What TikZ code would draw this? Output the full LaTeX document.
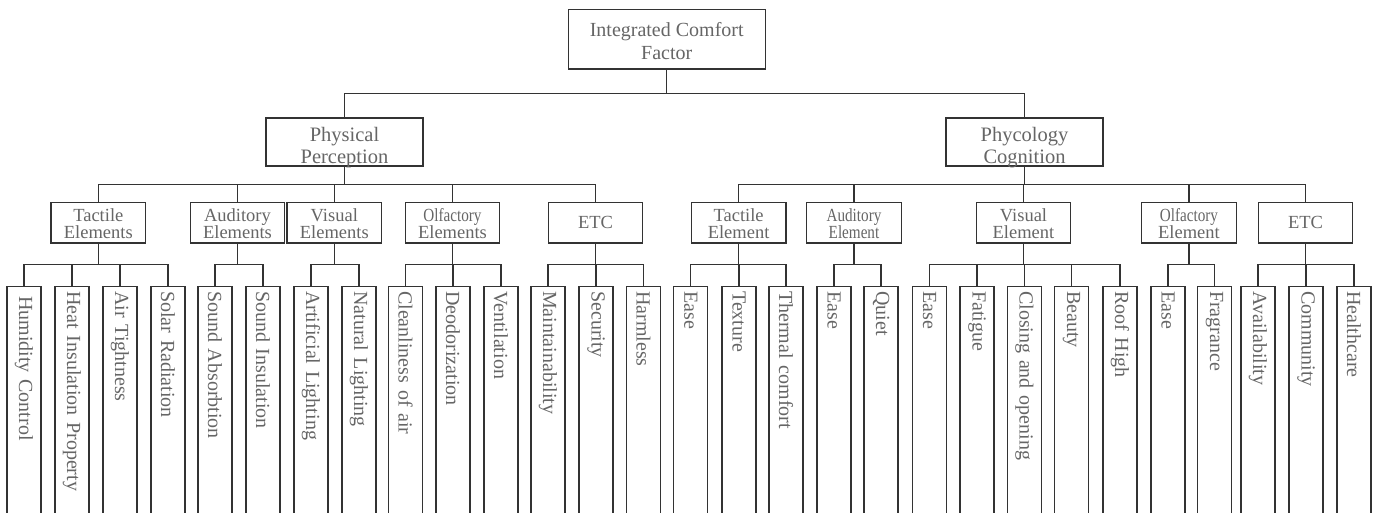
\documentclass[tikz,border=0pt]{standalone}
\usepackage{fontspec}
\setmainfont{Liberation Serif}
\usepackage{graphicx}
\definecolor{ln}{HTML}{333333}
\definecolor{tx}{HTML}{666666}
\newcommand{\sqz}[1]{\scalebox{0.82}[1]{#1}}
\newcommand{\lf}[3]{\node[leaf] (#1) at (#2,285.5) {#3};}
\setlength{\lineskiplimit}{-20pt}
\begin{document}
\begin{tikzpicture}[x=1pt,y=-1pt,
 box/.style={draw=ln, line width=1.4pt, fill=white, text=tx, align=center, inner sep=0pt},
 rootbox/.style={box, minimum width=197pt, minimum height=59.5pt, text height=40pt, text depth=0pt, font=\fontsize{20}{23}\selectfont},
 topbox/.style={box, minimum width=157pt, minimum height=48pt, text height=43pt, text depth=0pt, font=\fontsize{20.5}{22.5}\selectfont},
 etcbox/.style={box, minimum width=94.5pt, minimum height=40.3pt, font=\fontsize{18.5}{17}\selectfont},
 midbox/.style={etcbox, text height=31.6pt, text depth=0pt},
 leaf/.style={draw=ln, line width=1.4pt, text=tx, rotate=-90, anchor=west, minimum height=34pt, text width=230pt, inner xsep=5pt, inner ysep=0pt, align=left, font=\fontsize{20}{22}\selectfont},
 busto/.style={to path={(\tikztostart) -- ++(0,#1) -| (\tikztotarget)}},
 conn/.style={draw=ln, line width=1.4pt}
]
\useasboundingbox (0,0) rectangle (1376,512);
\clip (0,0) rectangle (1376,512);
\fill[white] (0,0) rectangle (1376,512);

% root and level 1
\node[rootbox] (root) at (666.7,39.2) {Integrated Comfort\\Factor};
\node[topbox] (pp) at (344.5,142) {Physical\\Perception};
\node[topbox] (pc) at (1024.5,142) {Phycology\\Cognition};

% level 2 left
\node[midbox] (lt) at (98.3,222.8) {Tactile\\Elements};
\node[midbox] (la) at (237.5,222.8) {Auditory\\Elements};
\node[midbox] (lv) at (334.3,222.8) {Visual\\Elements};
\node[midbox] (lo) at (452.5,222.8) {\sqz{Olfactory}\\Elements};
\node[etcbox] (le) at (595.5,222.8) {ETC};
% level 2 right
\node[midbox] (rt) at (738.6,222.8) {Tactile\\Element};
\node[midbox] (ra) at (854,222.8) {\sqz{Auditory}\\\sqz{Element}};
\node[midbox] (rv) at (1023.5,222.8) {Visual\\Element};
\node[midbox] (ro) at (1189,222.8) {\sqz{Olfactory}\\Element};
\node[etcbox] (re) at (1305.5,222.8) {ETC};

% leaves left
\lf{l1}{24}{\hspace{5pt}Humidity Control}
\lf{l2}{72}{Heat Insulation Property}
\lf{l3}{120}{Air Tightness}
\lf{l4}{168}{Solar Radiation}
\lf{l5}{215}{Sound Absorbtion}
\lf{l6}{263}{Sound Insulation}
\lf{l7}{311}{Artificial Lighting}
\lf{l8}{359}{Natural Lighting}
\lf{l9}{405.5}{Cleanliness of air}
\lf{l10}{453}{Deodorization}
\lf{l11}{501}{Ventilation}
\lf{l12}{548}{Maintainability}
\lf{l13}{596}{Security}
\lf{l14}{643.5}{Harmless}
% leaves right
\lf{r1}{690.7}{Ease}
\lf{r2}{739}{Texture}
\lf{r3}{786}{Thermal comfort}
\lf{r4}{834}{Ease}
\lf{r5}{881}{Quiet}
\lf{r6}{929.5}{Ease}
\lf{r7}{977}{Fatigue}
\lf{r8}{1024.5}{Closing and opening}
\lf{r9}{1071.5}{Beauty}
\lf{r10}{1120}{Roof High}
\lf{r11}{1168}{Ease}
\lf{r12}{1214.5}{Fragrance}
\lf{r13}{1258}{Availability}
\lf{r14}{1306}{Community}
\lf{r15}{1354}{Healthcare}

% connectors
\draw[conn] (root.south) to[busto=24] (pp.north) (root.south) to[busto=24] (pc.north);
\foreach \c in {lt,la,lv,lo,le} \draw[conn] (pp.south) to[busto=18] (\c.north);
\foreach \c in {rt,ra,rv,ro,re} \draw[conn] (pc.south) to[busto=18] (\c.north);
\foreach \p/\c in {lt/l1,lt/l2,lt/l3,lt/l4,la/l5,la/l6,lv/l7,lv/l8,lo/l9,lo/l10,lo/l11,le/l12,le/l13,le/l14,
  rt/r1,rt/r2,rt/r3,ra/r4,ra/r5,rv/r6,rv/r7,rv/r8,rv/r9,rv/r10,ro/r11,ro/r12,re/r13,re/r14,re/r15}
  \draw[conn] (\p.south) to[busto=21] (\c.west);
\end{tikzpicture}
\end{document}
